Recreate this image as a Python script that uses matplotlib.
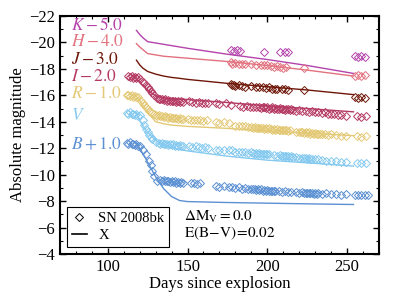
import matplotlib
matplotlib.use("Agg")
import matplotlib.pyplot as plt
from matplotlib.ticker import MultipleLocator

plt.rcParams['font.family'] = ['Liberation Serif', 'DejaVu Serif']
plt.rcParams['mathtext.fontset'] = 'stix'

# ---------------- data ----------------
bands = ['K', 'H', 'J', 'I', 'R', 'V', 'B']
band_labels = [r'$K-5.0$', r'$H-4.0$', r'$J-3.0$', r'$I-2.0$', r'$R-1.0$', r'$V$', r'$B+1.0$']
label_mags = [-21.25, -20.0, -18.7, -17.35, -16.1, -14.45, -12.25]
colors = {'K': '#b443ac', 'H': '#e2727f', 'J': '#6e1608', 'I': '#b43a64',
          'R': '#e3c976', 'V': '#84c9ef', 'B': '#5b90d2'}

K_days = [177, 179, 181, 183, 198, 208, 211, 213, 255, 257, 259, 261]
K_mags = [-19.4, -19.35, -19.4, -19.35, -19.3, -19.3, -19.3, -19.25, -18.95, -18.9, -18.95, -18.9]

H_days = [177, 178, 180, 182, 184, 186, 190, 193, 196, 198, 200, 202, 204, 206, 208, 210, 212,
          223, 255, 257, 259, 261]
H_mags = [-18.5, -18.4, -18.45, -18.4, -18.35, -18.4, -18.35, -18.3, -18.3, -18.25, -18.3, -18.2,
          -18.15, -18.2, -18.1, -18.05, -18.1, -18.05, -17.45, -17.5, -17.45, -17.5]

J_days = [177, 178, 179, 180, 182, 184, 186, 190, 193, 195, 197, 199, 201, 203, 205, 206,
          209, 211, 213, 223, 255, 257, 259, 261]
J_mags = [-16.85, -16.75, -16.8, -16.7, -16.75, -16.7, -16.65, -16.7, -16.65, -16.65, -16.6,
          -16.55, -16.6, -16.5, -16.5, -16.45, -16.45, -16.5, -16.4, -16.4, -15.85, -15.8,
          -15.85, -15.8]

I_days = [113, 114, 115, 116, 117, 118, 119, 120,
          122, 123, 124, 125, 126, 127, 128, 129,
          131, 132, 133, 134, 135, 136, 137, 138, 139, 140, 141, 142, 143, 144, 145, 146, 147,
          151, 153, 155, 157, 159, 161, 163,
          168, 170, 174, 177,
          183, 185, 187, 189, 191, 193, 195, 196, 197, 198, 199, 200, 201, 202, 203, 204, 205,
          206, 207, 208, 209, 210, 211, 212, 213, 214, 215,
          216, 218, 220, 222, 224, 226, 228, 230, 232, 234, 236, 238, 240, 242, 244, 246, 249,
          256, 259, 262]
I_mags = [-17.45, -17.35, -17.45, -17.3, -17.4, -17.3, -17.35, -17.2,
          -17.0, -16.9, -16.75, -16.6, -16.45, -16.3, -16.15, -16.0,
          -15.8, -15.75, -15.7, -15.75, -15.65, -15.7, -15.6, -15.65, -15.6, -15.55, -15.6,
          -15.55, -15.5, -15.55, -15.5, -15.55, -15.5,
          -15.55, -15.5, -15.45, -15.5, -15.45, -15.4, -15.45,
          -15.4, -15.35, -15.4, -15.3,
          -15.2, -15.15, -15.2, -15.15, -15.1, -15.15, -15.1, -15.05, -15.15, -15.1, -15.05,
          -15.1, -15.0, -15.05, -15.1, -15.0, -15.05, -14.95, -15.0, -15.05, -14.95, -15.0,
          -14.9, -14.95, -15.0, -14.9, -14.95,
          -14.9, -14.85, -14.9, -14.8, -14.85, -14.75, -14.8, -14.7, -14.75, -14.65, -14.7,
          -14.6, -14.6, -14.55, -14.5, -14.5, -14.45,
          -14.4, -14.35, -14.4]

R_days = [112, 113, 114, 115, 116, 117, 118, 119,
          121, 122, 123, 124, 125, 126, 127,
          129, 130, 131, 132, 133, 134, 135, 136, 137, 138, 139, 140, 141, 142, 143, 144, 145,
          146, 147,
          150, 152, 154, 156, 158, 160, 162,
          168, 170, 173, 176,
          180, 182, 184, 186, 188,
          190, 191, 192, 193, 194, 195, 196, 197, 198, 199, 200, 201, 202, 203, 204, 205, 206,
          207, 208, 209, 210, 211, 212, 213, 214,
          218, 220, 221, 222, 223, 224, 225, 226, 227, 228, 229, 230, 231, 232, 233, 234, 236,
          238, 240, 243, 246, 249,
          256, 259, 262]
R_mags = [-16.05, -16.0, -15.95, -16.0, -15.9, -15.95, -15.85, -15.9,
          -15.6, -15.45, -15.3, -15.1, -14.95, -14.8, -14.7,
          -14.55, -14.5, -14.45, -14.5, -14.4, -14.45, -14.35, -14.4, -14.35, -14.3, -14.35,
          -14.3, -14.25, -14.3, -14.25, -14.2, -14.25, -14.2, -14.2,
          -14.2, -14.15, -14.1, -14.15, -14.1, -14.05, -14.1,
          -13.95, -13.9, -13.95, -13.9,
          -13.7, -13.65, -13.7, -13.65, -13.6,
          -13.6, -13.55, -13.6, -13.55, -13.5, -13.55, -13.5, -13.55, -13.45, -13.5, -13.45,
          -13.5, -13.45, -13.4, -13.45, -13.4, -13.45, -13.4, -13.35, -13.4, -13.35, -13.4,
          -13.35, -13.3, -13.35,
          -13.25, -13.2, -13.25, -13.2, -13.15, -13.2, -13.15, -13.2, -13.1, -13.15, -13.1,
          -13.15, -13.1, -13.05, -13.1, -13.05, -13.05, -13.0, -13.05, -13.0, -12.95, -12.95,
          -12.9, -12.85, -12.9]

V_days = [112, 113, 114, 115, 116, 117, 118, 119, 120,
          122, 123, 124, 125, 126, 127, 128, 130,
          132, 133, 134, 135, 136, 137, 138, 139, 140, 141, 142, 143, 144, 145, 146, 147,
          151, 153, 155, 157, 159, 161, 163,
          168, 170, 173, 176, 178,
          180, 182, 184, 186, 188, 190, 191, 192, 193, 194, 195, 196, 197, 198, 199, 200, 201,
          204, 206, 208, 209, 210, 211, 212, 213, 214, 215, 216, 218,
          220, 222, 223, 224, 225, 226, 227, 228, 230, 232, 234,
          237, 240, 243, 246, 249,
          256, 259, 262]
V_mags = [-14.65, -14.6, -14.7, -14.55, -14.6, -14.5, -14.55, -14.45, -14.5,
          -14.1, -13.75, -13.45, -13.2, -13.0, -12.85, -12.7, -12.5,
          -12.4, -12.35, -12.4, -12.3, -12.35, -12.3, -12.25, -12.3, -12.25, -12.3, -12.2,
          -12.25, -12.2, -12.25, -12.2, -12.2,
          -12.15, -12.1, -12.15, -12.1, -12.05, -12.1, -12.05,
          -11.9, -11.85, -11.9, -11.85, -11.85,
          -11.75, -11.7, -11.75, -11.7, -11.65, -11.7, -11.65, -11.6, -11.65, -11.6, -11.65,
          -11.6, -11.55, -11.6, -11.55, -11.6, -11.55,
          -11.5, -11.45, -11.5, -11.45, -11.4, -11.45, -11.4, -11.45, -11.35, -11.4, -11.35,
          -11.35,
          -11.3, -11.25, -11.3, -11.25, -11.2, -11.25, -11.2, -11.15, -11.2, -11.15, -11.1,
          -11.05, -11.05, -11.0, -10.95, -10.95,
          -10.9, -10.85, -10.9]

B_days = [112, 113, 114, 115, 116, 117, 118, 119, 120,
          122, 124, 126, 127, 128, 129, 131,
          133, 134, 135, 136, 137, 138, 139, 140, 141, 142, 143, 144, 145, 146, 147,
          152, 154, 156, 158,
          168, 170, 173, 176, 178,
          180, 182, 184, 186, 188, 190, 191, 192, 193, 194, 195, 196, 197, 198, 199, 200, 201,
          202, 203, 204, 205,
          207, 209, 211, 213, 215,
          218, 220, 222, 223, 224, 225, 226, 227, 228, 229, 230, 231, 232, 234,
          237, 240, 243, 246, 249,
          255, 257, 259, 261, 263]
B_mags = [-12.4, -12.35, -12.45, -12.3, -12.35, -12.25, -12.3, -12.2, -12.15,
          -11.9, -11.6, -11.0, -10.7, -10.25, -9.9, -9.5,
          -9.6, -9.55, -9.6, -9.5, -9.55, -9.5, -9.45, -9.5, -9.45, -9.5, -9.4, -9.45, -9.4,
          -9.45, -9.4,
          -9.35, -9.35, -9.3, -9.35,
          -9.15, -9.1, -9.15, -9.1, -9.05,
          -9.0, -9.05, -8.95, -9.0, -8.95, -8.9, -8.95, -8.9, -8.85, -8.9, -8.85, -8.9, -8.8,
          -8.85, -8.8, -8.85, -8.8, -8.75, -8.8, -8.75, -8.8,
          -8.75, -8.7, -8.75, -8.7, -8.7,
          -8.7, -8.65, -8.7, -8.65, -8.6, -8.65, -8.6, -8.65, -8.6, -8.55, -8.6, -8.55, -8.6,
          -8.55,
          -8.6, -8.55, -8.55, -8.5, -8.55,
          -8.5, -8.45, -8.5, -8.45, -8.45]

# model light curves (X)
model_days = [118, 120, 122, 125, 130, 135, 140, 145, 150, 175, 200, 225, 254]
model_K = [-20.9, -20.6, -20.35, -20.05, -19.95, -19.85, -19.75, -19.65, -19.55, -19.1, -18.7, -18.25, -17.65]
model_H = [-19.9, -19.65, -19.45, -19.15, -19.05, -18.95, -18.9, -18.85, -18.8, -18.55, -18.25, -17.9, -17.45]
model_J = [-18.65, -18.3, -18.05, -17.8, -17.6, -17.45, -17.35, -17.28, -17.2, -16.9, -16.65, -16.4, -16.05]
model_I = [-17.2, -17.0, -16.75, -16.4, -15.95, -15.8, -15.75, -15.72, -15.68, -15.45, -15.2, -15.0, -14.75]
model_R = [-15.9, -15.6, -15.25, -14.7, -14.0, -13.85, -13.75, -13.7, -13.65, -13.5, -13.3, -13.15, -12.95]
model_V = [-14.6, -14.1, -13.7, -13.2, -12.6, -12.25, -12.05, -11.9, -11.8, -11.4, -11.1, -10.9, -10.65]
model_B = [-12.35, -12.0, -11.6, -10.95, -9.85, -8.95, -8.35, -8.05, -7.97, -7.9, -7.85, -7.8, -7.75]

obs = {'K': (K_days, K_mags), 'H': (H_days, H_mags), 'J': (J_days, J_mags),
       'I': (I_days, I_mags), 'R': (R_days, R_mags), 'V': (V_days, V_mags),
       'B': (B_days, B_mags)}
model = {'K': model_K, 'H': model_H, 'J': model_J, 'I': model_I,
         'R': model_R, 'V': model_V, 'B': model_B}

# ---------------- plot ----------------
fig = plt.figure(figsize=(3.99, 2.99), dpi=100)
ax = fig.add_axes([0.150, 0.150, 0.800, 0.797])

for b in bands:
    d, m = obs[b]
    ax.plot(d, m, linestyle='none', marker='D', ms=4.0, mfc='none',
            mec=colors[b], mew=0.7)
    ax.plot(model_days, model[b], '-', color=colors[b], lw=1.0)

for b, lab, y in zip(bands, band_labels, label_mags):
    ax.text(77, y, lab, color=colors[b], fontsize=12.5, va='center', ha='left')

ax.text(148, -6.8, r'$\Delta\mathrm{M}_{\mathrm{V}} = 0.0$', fontsize=11, va='center')
ax.text(148, -5.57, r'$\mathrm{E(B\!-\!V)\!=\!0.02}$', fontsize=11, va='center')

h1, = ax.plot([], [], linestyle='none', marker='D', ms=4.0, mfc='none', mec='k', mew=0.7)
h2, = ax.plot([], [], '-', color='k', lw=1.2)
leg = ax.legend([h1, h2], ['SN 2008bk', 'X'], loc='lower left',
                bbox_to_anchor=(0.022, 0.029), borderaxespad=0, fontsize=10.5,
                fancybox=False, framealpha=1, edgecolor='k', handlelength=1.0,
                handletextpad=0.8, borderpad=0.35, labelspacing=0.25)
leg.get_frame().set_linewidth(0.8)

ax.set_xlim(70, 270)
ax.set_ylim(-4, -22)
ax.xaxis.set_major_locator(MultipleLocator(50))
ax.xaxis.set_minor_locator(MultipleLocator(10))
ax.yaxis.set_major_locator(MultipleLocator(2))
ax.yaxis.set_minor_locator(MultipleLocator(1))
ax.tick_params(which='both', direction='in', top=True, right=True, labelsize=12)
ax.tick_params(which='major', length=4, width=1)
ax.tick_params(which='minor', length=2, width=0.8)
for s in ax.spines.values():
    s.set_linewidth(1.5)

ax.set_xlabel('Days since explosion', fontsize=12, labelpad=1)
ax.set_ylabel('Absolute magnitude', fontsize=12, labelpad=2)

fig.savefig('out.png', dpi=100)
